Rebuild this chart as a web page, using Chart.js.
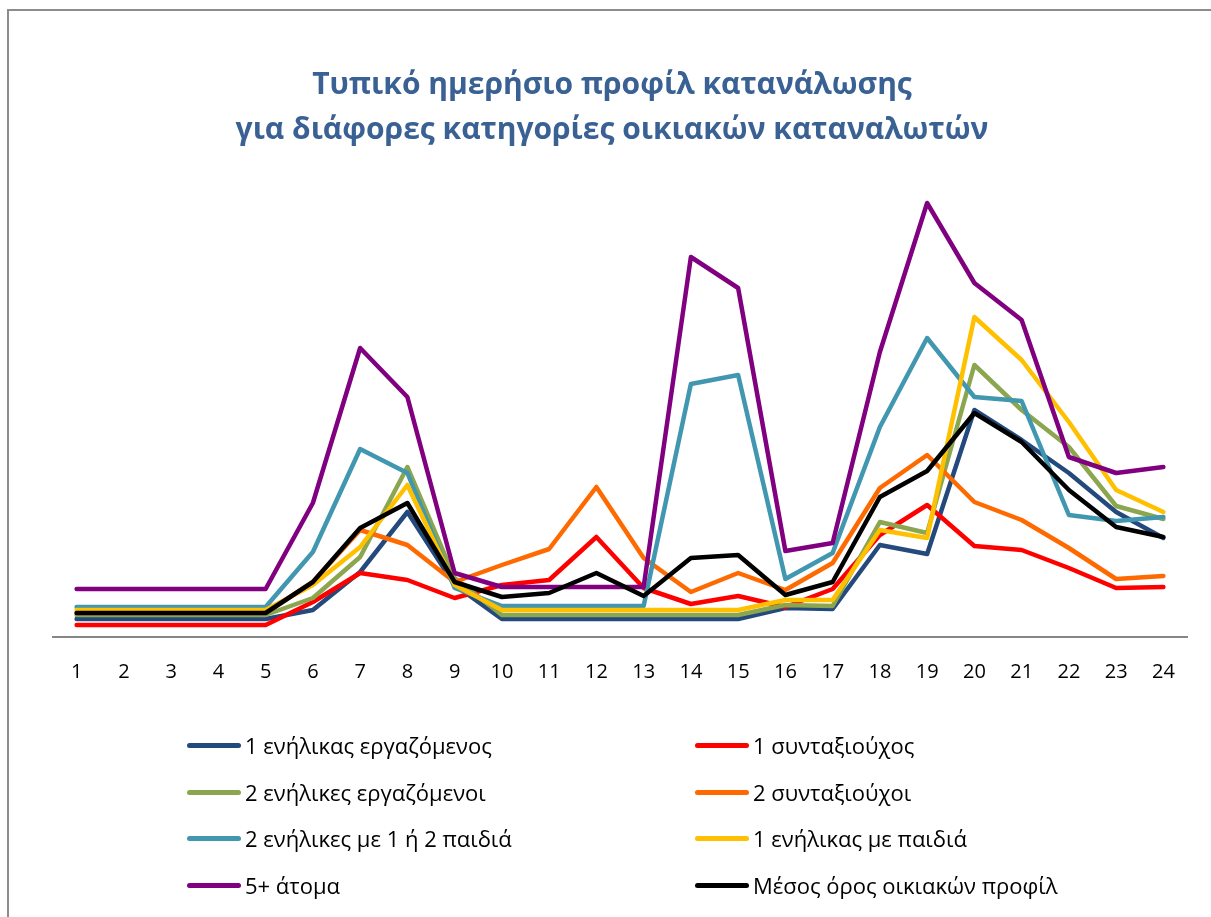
<!DOCTYPE html>
<html lang="el">
<head>
<meta charset="utf-8">
<title>Τυπικό ημερήσιο προφίλ κατανάλωσης</title>
<script src="https://cdn.jsdelivr.net/npm/chart.js@4.4.1/dist/chart.umd.min.js"></script>
<style>
  html, body { margin: 0; padding: 0; background: #fff; overflow: hidden; }
  #frame {
    position: absolute; left: 7px; top: 9px; width: 1300px; height: 1000px;
    border-left: 2px solid #8c8c8c; border-top: 2px solid #8c8c8c;
  }
  #chartBox { position: absolute; left: 0; top: 0; width: 1211px; height: 917px; }
  .leg-item {
    position: absolute; height: 30px; line-height: 30px;
    display: flex; align-items: center; white-space: nowrap;
    font: 22px "Open Sans", sans-serif; color: #000;
  }
  .leg-line { width: 54px; height: 5px; border-radius: 3px; margin-right: 4px; }
</style>
</head>
<body>
<div id="frame"></div>
<div id="chartBox">
  <canvas id="profileChart" width="1211" height="917"></canvas>
</div>
<div id="legend"></div>

<script>
// ώρες της ημέρας
const hours = ['1','2','3','4','5','6','7','8','9','10','11','12','13','14','15','16','17','18','19','20','21','22','23','24'];

const titleLines = ['Τυπικό ημερήσιο προφίλ κατανάλωσης', 'για διάφορες κατηγορίες οικιακών καταναλωτών'];

// τιμές ανά κατηγορία (εκτίμηση από το γράφημα)
const enilikasErgazomenos = [0.09, 0.09, 0.09, 0.09, 0.09, 0.135, 0.325, 0.625, 0.26, 0.09, 0.09, 0.09, 0.09, 0.09, 0.09, 0.145, 0.14, 0.46, 0.415, 1.135, 0.985, 0.82, 0.625, 0.495];
const syntaxiouxos = [0.06, 0.06, 0.06, 0.06, 0.06, 0.175, 0.32, 0.285, 0.195, 0.26, 0.285, 0.5, 0.245, 0.165, 0.205, 0.15, 0.24, 0.51, 0.66, 0.455, 0.435, 0.345, 0.245, 0.25];
const dyoErgazomenoi = [0.11, 0.11, 0.11, 0.11, 0.11, 0.195, 0.40, 0.85, 0.295, 0.11, 0.11, 0.11, 0.11, 0.11, 0.11, 0.16, 0.155, 0.575, 0.52, 1.36, 1.135, 0.95, 0.655, 0.59];
const dyoSyntaxiouxoi = [0.12, 0.12, 0.12, 0.12, 0.12, 0.275, 0.535, 0.46, 0.275, 0.36, 0.44, 0.75, 0.395, 0.225, 0.32, 0.235, 0.37, 0.745, 0.91, 0.675, 0.585, 0.445, 0.29, 0.305];
const mePaidia = [0.15, 0.15, 0.15, 0.15, 0.15, 0.425, 0.94, 0.82, 0.245, 0.155, 0.155, 0.155, 0.155, 1.265, 1.31, 0.29, 0.42, 1.05, 1.495, 1.2, 1.18, 0.61, 0.58, 0.60];
const monogoneas = [0.135, 0.135, 0.135, 0.135, 0.135, 0.26, 0.45, 0.76, 0.26, 0.135, 0.135, 0.135, 0.135, 0.135, 0.135, 0.185, 0.185, 0.535, 0.495, 1.60, 1.385, 1.075, 0.735, 0.625];
const pentePlus = [0.24, 0.24, 0.24, 0.24, 0.24, 0.67, 1.445, 1.20, 0.32, 0.25, 0.25, 0.25, 0.25, 1.90, 1.745, 0.43, 0.47, 1.425, 2.17, 1.77, 1.585, 0.90, 0.82, 0.85];
const mesosOros = [0.12, 0.12, 0.12, 0.12, 0.12, 0.275, 0.545, 0.67, 0.275, 0.20, 0.22, 0.32, 0.205, 0.395, 0.41, 0.21, 0.275, 0.70, 0.83, 1.12, 0.975, 0.735, 0.55, 0.50];

const series = [
  { label: '1 ενήλικας εργαζόμενος', data: enilikasErgazomenos, color: '#24497C' },
  { label: '1 συνταξιούχος', data: syntaxiouxos, color: '#FF0000' },
  { label: '2 ενήλικες εργαζόμενοι', data: dyoErgazomenoi, color: '#8BA64F' },
  { label: '2 συνταξιούχοι', data: dyoSyntaxiouxoi, color: '#FF6A00' },
  { label: '2 ενήλικες με 1 ή 2 παιδιά', data: mePaidia, color: '#4297B0' },
  { label: '1 ενήλικας με παιδιά', data: monogoneas, color: '#FFC000' },
  { label: '5+ άτομα', data: pentePlus, color: '#800080' },
  { label: 'Μέσος όρος οικιακών προφίλ', data: mesosOros, color: '#000000' }
];

// τίτλος σε δύο γραμμές, όπως στο excel
const titlePlugin = {
  id: 'twoLineTitle',
  afterDraw(chart) {
    const ctx = chart.ctx;
    ctx.save();
    ctx.font = 'bold 30px "Open Sans"';
    ctx.fillStyle = '#3A6194';
    ctx.textAlign = 'center';
    ctx.textBaseline = 'middle';
    ctx.fillText(titleLines[0], 612, 85);
    ctx.fillText(titleLines[1], 612, 130);
    ctx.restore();
  }
};

const ctx = document.getElementById('profileChart').getContext('2d');

const chart = new Chart(ctx, {
  type: 'line',
  data: {
    labels: hours,
    datasets: series.map((s, i) => ({
      label: s.label,
      data: s.data,
      borderColor: s.color,
      backgroundColor: s.color,
      borderWidth: 4.5,
      pointRadius: 0,
      tension: 0,
      borderJoinStyle: 'round',
      borderCapStyle: 'round',
      order: series.length - i   // η τελευταία σειρά σχεδιάζεται από πάνω
    }))
  },
  options: {
    responsive: false,
    animation: false,
    layout: { padding: { left: 53, right: 24, top: 157, bottom: 220 } },
    plugins: {
      legend: { display: false },
      title: { display: false },
      tooltip: { enabled: false }
    },
    scales: {
      x: {
        offset: true,
        grid: { display: false, drawTicks: false },
        border: { display: true, color: '#868686', width: 2 },
        ticks: {
          color: '#000',
          padding: 23,
          font: { family: 'Open Sans', size: 20 }
        },
        afterFit: axis => { axis.height = 60; }
      },
      y: { display: false, min: 0, max: 2.4 }
    }
  },
  plugins: [titlePlugin]
});

// υπόμνημα σε δύο στήλες
const legendCols = [187, 695];
const legendRows = [745, 792, 838, 885];
const legend = document.getElementById('legend');

chart.data.datasets.forEach((ds, i) => {
  const item = document.createElement('div');
  item.className = 'leg-item';
  item.style.left = legendCols[i % 2] + 'px';
  item.style.top = (legendRows[Math.floor(i / 2)] - 15) + 'px';
  item.innerHTML = `<span class="leg-line" style="background:${ds.borderColor}"></span><span>${ds.label}</span>`;
  legend.appendChild(item);
});
</script>
</body>
</html>
